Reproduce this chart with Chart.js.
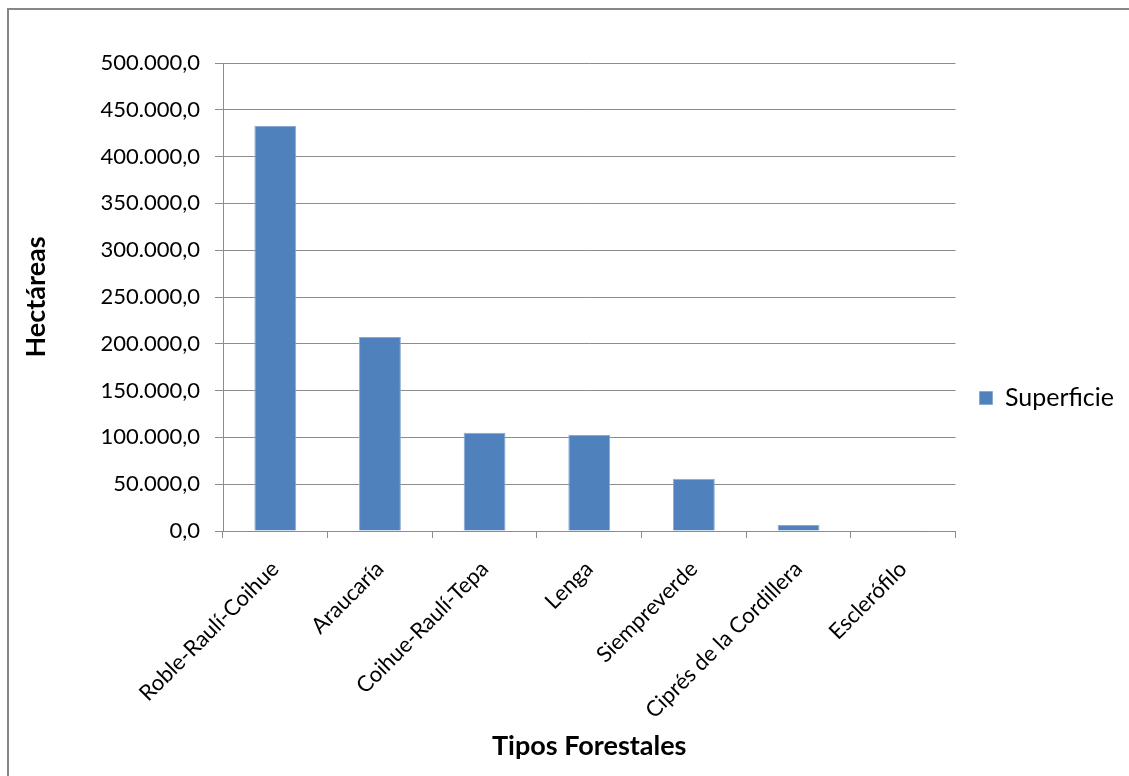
<!DOCTYPE html>
<html lang="es">
<head>
<meta charset="utf-8">
<title>Superficie por Tipo Forestal</title>
<script src="https://cdn.jsdelivr.net/npm/chart.js@4/dist/chart.umd.min.js"></script>
<style>
  html, body { margin: 0; padding: 0; background: #ffffff; }
  #wrap { position: relative; width: 1129px; height: 776px; }
</style>
</head>
<body>
<div id="wrap"><canvas id="chart" width="1129" height="776"></canvas></div>
<script>
// Forest types and surface area (hectares)
const categories = [
  'Roble-Raulí-Coihue',
  'Araucaría',
  'Coihue-Raulí-Tepa',
  'Lenga',
  'Siempreverde',
  'Ciprés de la Cordillera',
  'Esclerófilo'
];
const superficie = [432700, 207300, 105000, 102600, 55900, 6400, 300];
const seriesName = 'Superficie';
const yTicks = [0, 50000, 100000, 150000, 200000, 250000, 300000, 350000, 400000, 450000, 500000];
const yTitle = 'Hectáreas';
const xTitle = 'Tipos Forestales';

// Spanish number style: thousands with '.', one decimal with ','
function formatEs(v) {
  const parts = Math.round(v).toString().replace(/\B(?=(\d{3})+(?!\d))/g, '.');
  return parts + ',0';
}

const FONT = 'Lato, "Open Sans", "Liberation Sans", sans-serif';
const GRID = '#8c8c8c';

// Outer frame of the chart object
const framePlugin = {
  id: 'frame',
  beforeDraw(chart) {
    const ctx = chart.ctx;
    ctx.save();
    ctx.strokeStyle = '#878787';
    ctx.lineWidth = 2;
    ctx.beginPath();
    ctx.moveTo(8, chart.height);
    ctx.lineTo(8, 9);
    ctx.lineTo(chart.width, 9);
    ctx.stroke();
    ctx.restore();
  }
};

new Chart(document.getElementById('chart'), {
  type: 'bar',
  data: {
    labels: categories,
    datasets: [{
      label: seriesName,
      data: superficie,
      backgroundColor: '#4f81bd',
      borderColor: '#8aaad6',
      borderWidth: 1,
      categoryPercentage: 1.0,
      barPercentage: 0.4
    }]
  },
  options: {
    responsive: false,
    animation: false,
    layout: { padding: { left: 10, top: 28, right: 5, bottom: 8 } },
    plugins: {
      title: {
        display: true,
        text: ' ',
        font: { size: 10, lineHeight: 1 },
        padding: { top: 0, bottom: 25 }
      },
      legend: {
        position: 'right',
        align: 'center',
        labels: {
          boxWidth: 13,
          boxHeight: 13,
          padding: 24,
          color: '#000000',
          font: { family: FONT, size: 25 }
        }
      },
      tooltip: { enabled: false }
    },
    scales: {
      y: {
        min: 0,
        max: 500000,
        afterBuildTicks(scale) {
          scale.ticks = yTicks.map(v => ({ value: v }));
        },
        afterFit(scale) { scale.width = 213; },
        ticks: {
          callback: v => formatEs(v),
          color: '#000000',
          padding: 15,
          font: { family: FONT, size: 22 }
        },
        grid: {
          color: GRID,
          lineWidth: 1,
          tickLength: 8
        },
        border: { display: true, color: GRID, width: 1 },
        title: {
          display: true,
          text: yTitle,
          color: '#000000',
          font: { family: FONT, size: 27, weight: 'bold' },
          padding: { top: 10, bottom: 0 }
        }
      },
      x: {
        afterFit(scale) { scale.height = 237; },
        ticks: {
          minRotation: 45,
          maxRotation: 45,
          autoSkip: false,
          color: '#000000',
          padding: 18,
          font: { family: FONT, size: 22 }
        },
        grid: {
          display: true,
          drawOnChartArea: false,
          drawTicks: true,
          tickLength: 7,
          color: GRID,
          offset: true
        },
        border: { display: true, color: GRID, width: 1 },
        title: {
          display: true,
          text: xTitle,
          color: '#000000',
          font: { family: FONT, size: 27, weight: 'bold' },
          padding: { top: 0, bottom: 6 }
        }
      }
    }
  },
  plugins: [framePlugin]
});
</script>
</body>
</html>
